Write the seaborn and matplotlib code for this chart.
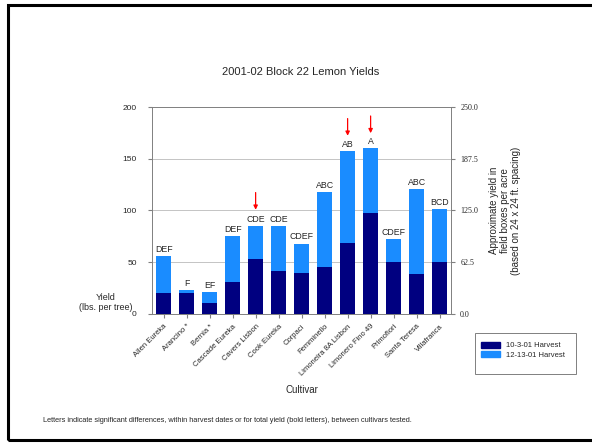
import matplotlib
matplotlib.use("Agg")
import matplotlib.pyplot as plt
import matplotlib.patches as mpatches
import numpy as np
import pandas as pd
import seaborn as sns

# Data (lbs. per tree)
cultivars = ["Allen Eureka", "Arancino *", "Bernia *", "Cascade Eureka", "Cavers Lisbon",
             "Cook Eureka", "Corpaci", "Femminello", "Limoneira 8A Lisbon",
             "Limonero Fino 49", "Primofiori", "Santa Teresa", "Villafranca"]
harvest_oct = [20, 20, 11, 30.5, 53, 41.5, 40, 45, 69, 97.5, 50, 39, 50]
total_yield = [56, 23, 21.5, 75.5, 85, 85, 68, 117.5, 157.5, 160, 72.5, 121, 101]
letters = ["DEF", "F", "EF", "DEF", "CDE", "CDE", "CDEF", "ABC", "AB", "A", "CDEF", "ABC", "BCD"]
arrow_cultivars = ["Cavers Lisbon", "Limoneira 8A Lisbon", "Limonero Fino 49"]

DARK = "#000080"
LIGHT = "#1a8cff"

df = pd.DataFrame({"cultivar": cultivars, "oct": harvest_oct, "total": total_yield})

sns.set_style("white")
plt.rcParams["font.family"] = ["Liberation Sans", "DejaVu Sans"]

fig = plt.figure(figsize=(5.92, 4.44), dpi=100)
ax = fig.add_axes([0.257, 0.293, 0.505, 0.466])

sns.barplot(data=df, x="cultivar", y="total", color=LIGHT, width=0.63,
            saturation=1, ax=ax)
sns.barplot(data=df, x="cultivar", y="oct", color=DARK, width=0.63,
            saturation=1, ax=ax)
for p in ax.patches:
    p.set_edgecolor("none")

ax.set_ylim(0, 200)
ax.set_xlim(-0.5, len(cultivars) - 0.5)
ax.set_yticks([0, 50, 100, 150, 200])
ax.tick_params(axis="y", labelsize=6, length=3, color="#808080", pad=8)
ax.yaxis.grid(True, color="#c4c4c4", linewidth=0.7)
ax.set_axisbelow(True)
ax.set_xticks(range(len(cultivars)))
ax.set_xticklabels(cultivars, rotation=45, ha="right", rotation_mode="anchor",
                   fontsize=5.5)
ax.tick_params(axis="x", length=3, color="#808080", bottom=True)
ax.set_xlabel("Cultivar", fontsize=7, labelpad=6)
ax.set_ylabel("")
for side in ["left", "top", "bottom"]:
    ax.spines[side].set_color("#808080")
    ax.spines[side].set_linewidth(0.7)
ax.spines["right"].set_visible(False)

# letters above bars
for i, (t, lab) in enumerate(zip(total_yield, letters)):
    ax.text(i, t + 2, lab, ha="center", va="bottom", fontsize=6.3)

# red arrows
for name in arrow_cultivars:
    i = cultivars.index(name)
    t = total_yield[i]
    off = 13 if name == "Cavers Lisbon" else 12
    ax.annotate("", xy=(i, t + off), xytext=(i, t + off + 22),
                arrowprops=dict(arrowstyle="-|>", color="red", lw=0.9,
                                mutation_scale=6))

# right axis (field boxes per acre)
ax2 = ax.twinx()
ax2.set_ylim(0, 250)
ax2.set_yticks([0, 62.5, 125, 187.5, 250])
ax2.set_yticklabels(["0.0", "62.5", "125.0", "187.5", "250.0"],
                    family="Liberation Serif", fontsize=5.8)
ax2.tick_params(axis="y", length=3, color="#808080")
for side in ["left", "top", "bottom"]:
    ax2.spines[side].set_visible(False)
ax2.spines["right"].set_color("#808080")
ax2.spines["right"].set_linewidth(0.7)
ax2.set_ylabel("Approximate yield in\nfield boxes per acre\n(based on 24 x 24 ft. spacing)",
               fontsize=7, labelpad=8, linespacing=1.1)

fig.text(0.507, 0.838, "2001-02 Block 22 Lemon Yields", ha="center", va="center", fontsize=8)
fig.text(0.178, 0.318, "Yield\n(lbs. per tree)", ha="center", va="center",
         fontsize=6.5, linespacing=1.1)
fig.text(0.073, 0.054, "Letters indicate significant differences, within harvest dates "
         "or for total yield (bold letters), between cultivars tested.",
         ha="left", va="center", fontsize=5.3)

handles = [mpatches.Patch(color=DARK, label="10-3-01 Harvest"),
           mpatches.Patch(color=LIGHT, label="12-13-01 Harvest")]
fig.legend(handles=handles, loc="upper left", bbox_to_anchor=(0.80, 0.248),
           fontsize=5.5, frameon=False, borderpad=0.5,
           handlelength=2.5, handleheight=0.9, labelspacing=0.2)
fig.patches.append(mpatches.Rectangle((475 / 592, 1 - 374 / 444), 101 / 592, 41 / 444,
                                      transform=fig.transFigure, fill=False,
                                      edgecolor="#808080", linewidth=0.7))

# outer frame
fig.patches.append(mpatches.Rectangle((0.013, 0.01), 1.1, 0.978, transform=fig.transFigure,
                                      fill=False, edgecolor="black", linewidth=2.2))

fig.savefig("out.png", dpi=100)
